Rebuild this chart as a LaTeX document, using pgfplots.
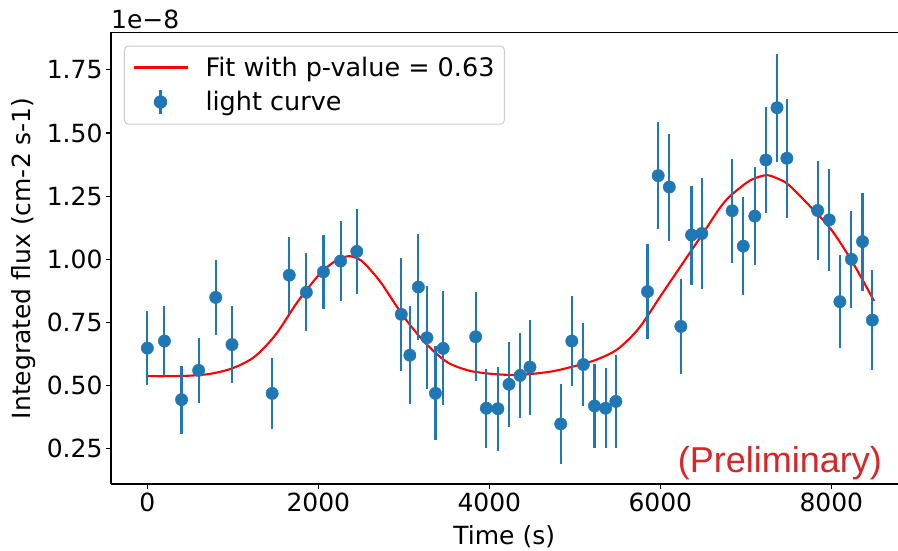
\documentclass[border=0pt]{standalone}
\usepackage{pgfplots}
\pgfplotsset{compat=1.18}
\usepackage{fontspec}
\setmainfont{DejaVu Sans}
\newfontfamily\libsans{Liberation Sans}
\definecolor{tabblue}{HTML}{1F77B4}
\definecolor{tabred}{HTML}{D62728}

\pgfplotstableread{
x y ey
0 0.648 0.147
200 0.676 0.137
400 0.444 0.135
600 0.560 0.130
800 0.849 0.150
990 0.662 0.152
1460 0.469 0.140
1660 0.937 0.152
1860 0.869 0.154
2060 0.950 0.148
2260 0.993 0.158
2450 1.031 0.167
2970 0.782 0.224
3070 0.620 0.193
3170 0.890 0.209
3270 0.689 0.204
3370 0.469 0.186
3460 0.647 0.226
3840 0.693 0.177
3965 0.410 0.156
4100 0.408 0.166
4230 0.505 0.168
4360 0.540 0.169
4475 0.573 0.188
4835 0.348 0.158
4965 0.676 0.177
5100 0.583 0.165
5230 0.419 0.168
5360 0.410 0.158
5480 0.437 0.184
5850 0.872 0.189
5975 1.331 0.213
6105 1.286 0.212
6240 0.734 0.188
6365 1.096 0.196
6485 1.102 0.219
6840 1.192 0.207
6970 1.052 0.195
7105 1.171 0.194
7235 1.393 0.211
7365 1.600 0.214
7480 1.400 0.235
7840 1.193 0.197
7975 1.156 0.202
8100 0.832 0.183
8235 1.000 0.192
8365 1.070 0.194
8480 0.759 0.198
}\lightcurve

\pgfplotstableread{
x y
0 0.537
250 0.537
500 0.539
750 0.547
1000 0.569
1250 0.613
1500 0.701
1750 0.828
2000 0.936
2125 0.975
2250 1.003
2375 1.012
2500 0.995
2625 0.952
2750 0.899
3000 0.772
3250 0.669
3500 0.594
3750 0.560
4000 0.547
4250 0.542
4500 0.546
4750 0.557
5000 0.577
5250 0.602
5500 0.644
5750 0.727
6000 0.853
6250 0.978
6500 1.103
6750 1.227
7000 1.301
7125 1.323
7250 1.333
7375 1.319
7500 1.295
7750 1.210
8000 1.117
8250 0.987
8500 0.835
}\fitcurve

\begin{document}
\begin{tikzpicture}
\path[use as bounding box] (-111pt,-67pt) rectangle (787pt,484pt);
\begin{axis}[
  name=ax,
  at={(0pt,0pt)}, anchor=south west,
  scale only axis, width=786.5pt, height=451.5pt,
  xmin=-425, xmax=8774, ymin=0.110, ymax=1.898,
  axis x line*=bottom, axis y line*=left,
  axis line style={-, black, line width=1.1pt},
  xtick={0,2000,4000,6000,8000},
  xticklabels={0,2000,4000,6000,8000},
  ytick={0.25,0.5,0.75,1,1.25,1.5,1.75},
  yticklabels={0.25,0.50,0.75,1.00,1.25,1.50,1.75},
  tick align=outside, major tick length=5pt,
  tick style={black, line width=1.1pt},
  ticklabel style={font=\fontsize{25}{30}\selectfont},
  xlabel={Time (s)}, ylabel={Integrated flux (cm-2 s-1)},
  label style={font=\fontsize{25}{30}\selectfont},
  xlabel style={at={(axis description cs:0.5,-0.135)}, anchor=base},
  ylabel style={at={(axis description cs:-0.111,0.5)}, anchor=center},
  legend cell align=left,
  legend style={at={(0.0165,0.971)}, anchor=north west,
    draw=black!20, line width=1pt, rounded corners=4pt, fill=white,
    font=\fontsize{25.5}{30}\selectfont, row sep=9pt,
    inner xsep=8pt, inner ysep=9pt,
    /tikz/every odd column/.append style={column sep=15pt}},
]
\addplot[red, line width=2.1pt, smooth,
  legend image code/.code={\draw[red, line width=2.1pt] (0pt,0pt) -- (54pt,0pt);}]
  table[x=x, y=y] {\fitcurve};
\addlegendentry{Fit with p-value = 0.63}
\addplot[only marks, mark=*, mark size=6.2pt, tabblue,
  mark options={fill=tabblue, draw=tabblue},
  legend image code/.code={\draw[tabblue, line width=2.1pt] (27pt,-12pt) -- (27pt,12pt); \fill[tabblue] (27pt,0pt) circle (6.2pt);},
  error bars/.cd, y dir=both, y explicit, error mark=none,
  error bar style={line width=2.1pt, tabblue}]
  table[x=x, y=y, y error=ey] {\lightcurve};
\addlegendentry{light curve}
\end{axis}
\draw[black, line width=1.1pt] (ax.north west) -- (ax.north east);
\node[anchor=base west, inner sep=0pt, font=\fontsize{25}{30}\selectfont] at ([yshift=4pt]ax.north west) {1e−8};
\node[anchor=base east, inner sep=0pt, text=tabred, font=\libsans\fontsize{36}{40}\selectfont] at ([xshift=771pt, yshift=11pt]ax.south west) {(Preliminary)};
\end{tikzpicture}
\end{document}
